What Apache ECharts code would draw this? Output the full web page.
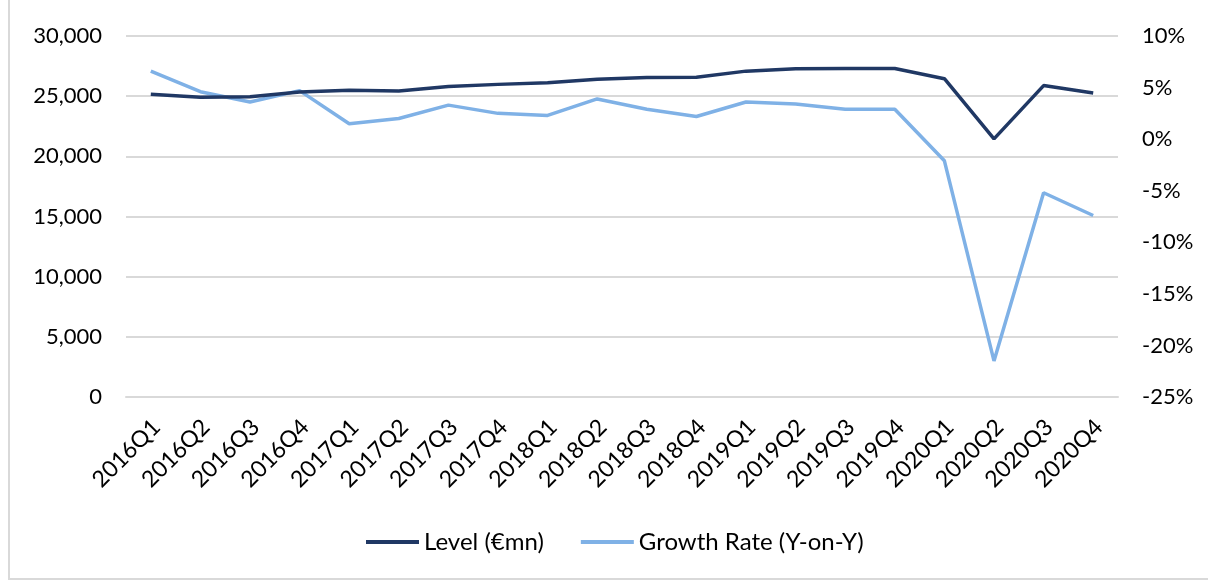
<!DOCTYPE html>
<html>
<head>
<meta charset="utf-8">
<script src="https://cdn.jsdelivr.net/npm/echarts@6/dist/echarts.min.js"></script>
<style>
  html, body { margin: 0; padding: 0; background: #fff; }
  #chart { width: 1208px; height: 585px; }
</style>
</head>
<body>
<div id="chart"></div>
<script>
const quarters = [
  '2016Q1', '2016Q2', '2016Q3', '2016Q4',
  '2017Q1', '2017Q2', '2017Q3', '2017Q4',
  '2018Q1', '2018Q2', '2018Q3', '2018Q4',
  '2019Q1', '2019Q2', '2019Q3', '2019Q4',
  '2020Q1', '2020Q2', '2020Q3', '2020Q4',
];
// level, € million (left axis)
const levelValues = [
  25150, 24900, 24950, 25350,
  25500, 25420, 25800, 25980,
  26120, 26400, 26550, 26580,
  27080, 27280, 27300, 27300,
  26450, 21450, 25880, 25270,
];
// year-on-year growth, % (right axis)
const growthValues = [
  6.6, 4.6, 3.6, 4.7,
  1.5, 2.0, 3.3, 2.5,
  2.3, 3.9, 2.9, 2.2,
  3.6, 3.4, 2.9, 2.9,
  -2.1, -21.5, -5.2, -7.4,
];
const names = ['Level (€mn)', 'Growth Rate (Y-on-Y)'];
const colors = ['#203864', '#7fb1e6'];

const font = 'Lato, "Open Sans", sans-serif';
const gridColor = '#d9d9d9';

const chart = echarts.init(document.getElementById('chart'));
const option = {
  animation: false,
  textStyle: { fontFamily: font, color: '#000' },
  graphic: [{
    type: 'rect',
    shape: { x: 9, y: -10, width: 1220, height: 589 },
    style: { fill: 'none', stroke: gridColor, lineWidth: 2 },
    silent: true,
  }],
  grid: {
    left: 126,
    right: 90,
    top: 36,
    bottom: 188,
  },
  legend: {
    left: 361,
    top: 525,
    icon: 'rect',
    itemWidth: 53,
    itemHeight: 4,
    itemGap: 37,
    textStyle: { fontFamily: font, fontSize: 24, color: '#000' },
    data: names,
  },
  xAxis: {
    type: 'category',
    data: quarters,
    boundaryGap: true,
    axisTick: { show: false },
    axisLine: { show: true, lineStyle: { color: gridColor, width: 2 } },
    axisLabel: {
      rotate: 45,
      margin: 32,
      padding: [14, -8, 0, 0],
      interval: 0,
      fontFamily: font,
      fontSize: 23,
      color: '#000',
    },
  },
  yAxis: [
    {
      type: 'value',
      min: 0,
      max: 30000,
      interval: 5000,
      axisLine: { show: false },
      axisTick: { show: false },
      axisLabel: {
        margin: 24,
        fontFamily: font,
        fontSize: 22,
        color: '#000',
        formatter: (v) => v.toLocaleString('en-US'),
      },
      splitLine: { lineStyle: { color: gridColor, width: 2 } },
    },
    {
      type: 'value',
      min: -25,
      max: 10,
      interval: 5,
      axisLine: { show: false },
      axisTick: { show: false },
      axisLabel: {
        margin: 24,
        fontFamily: font,
        fontSize: 22,
        color: '#000',
        formatter: '{value}%',
      },
      splitLine: { show: false },
    },
  ],
  series: [
    {
      name: names[0],
      type: 'line',
      yAxisIndex: 0,
      data: levelValues,
      symbol: 'none',
      color: colors[0],
      lineStyle: { width: 3.5, color: colors[0] },
      z: 3,
    },
    {
      name: names[1],
      type: 'line',
      yAxisIndex: 1,
      data: growthValues,
      symbol: 'none',
      color: colors[1],
      lineStyle: { width: 3.5, color: colors[1] },
      z: 2,
    },
  ],
};
chart.setOption(option);
</script>
</body>
</html>
